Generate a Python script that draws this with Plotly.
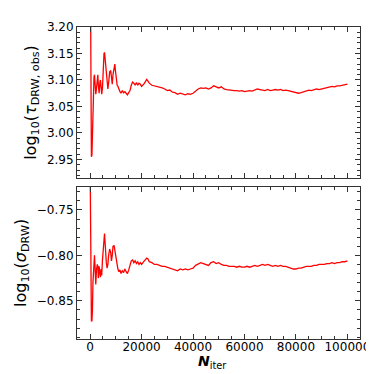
import plotly.graph_objects as go

# iteration number (chain step)
n_iter = [
    0, 100, 200, 350, 500, 700, 900, 1100, 1300, 1500,
    1700, 1900, 2200, 2500, 2800, 3000, 3200, 3500, 3800, 4000,
    4300, 4500, 4800, 5100, 5400, 5600, 5800, 6000, 6300, 6600,
    6900, 7200, 7600, 8000, 8300, 8600, 8900, 9300, 9600, 9900,
    10200, 10500, 10800, 11200, 11600, 12000, 12500, 13000, 13500, 14000,
    14500, 15000, 15500, 16000, 16500, 17000, 17500, 18000, 18500, 19000,
    19500, 20000, 20500, 21000, 21500, 22000, 22500, 23000, 24000, 25000,
    26000, 27000, 28000, 29000, 30000, 31000, 32000, 33000, 34000, 35000,
    36000, 37000, 38000, 39000, 40000, 41000, 42000, 43000, 44000, 45000,
    46000, 47000, 48000, 49000, 50000, 51000, 52000, 53000, 54000, 55000,
    56000, 57000, 58000, 59000, 60000, 61000, 62000, 63000, 64000, 65000,
    66000, 67000, 68000, 69000, 70000, 71000, 72000, 73000, 74000, 75000,
    76000, 77000, 78000, 79000, 80000, 81000, 82000, 83000, 84000, 85000,
    86000, 87000, 88000, 89000, 90000, 91000, 92000, 93000, 94000, 95000,
    96000, 97000, 98000, 99000, 100000,
]

# running log10(tau_DRW,obs)
log_tau = [
    3.400, 3.250, 3.100, 3.020, 2.955, 2.958, 3.000, 3.060, 3.090, 3.105,
    3.110, 3.095, 3.073, 3.085, 3.108, 3.110, 3.090, 3.075, 3.095, 3.100,
    3.085, 3.073, 3.085, 3.130, 3.150, 3.152, 3.140, 3.125, 3.110, 3.090,
    3.083, 3.095, 3.115, 3.118, 3.100, 3.092, 3.110, 3.122, 3.130, 3.115,
    3.100, 3.090, 3.088, 3.080, 3.078, 3.075, 3.080, 3.076, 3.078, 3.075,
    3.072, 3.076, 3.080, 3.090, 3.096, 3.094, 3.090, 3.095, 3.090, 3.094,
    3.092, 3.088, 3.090, 3.093, 3.097, 3.101, 3.098, 3.094, 3.090, 3.089,
    3.088, 3.087, 3.085, 3.083, 3.080, 3.081, 3.077, 3.076, 3.073, 3.075,
    3.074, 3.072, 3.074, 3.073, 3.075, 3.079, 3.083, 3.085, 3.084, 3.085,
    3.083, 3.085, 3.089, 3.087, 3.085, 3.087, 3.083, 3.082, 3.081, 3.081,
    3.080, 3.080, 3.079, 3.080, 3.078, 3.079, 3.080, 3.079, 3.081, 3.083,
    3.082, 3.081, 3.080, 3.082, 3.080, 3.081, 3.082, 3.081, 3.082, 3.080,
    3.081, 3.080, 3.079, 3.078, 3.076, 3.075, 3.076, 3.078, 3.080, 3.081,
    3.080, 3.082, 3.083, 3.082, 3.083, 3.084, 3.085, 3.087, 3.088, 3.087,
    3.089, 3.089, 3.090, 3.091, 3.092,
]

# running log10(sigma_DRW)
log_sigma = [
    -0.700, -0.740, -0.800, -0.840, -0.872, -0.872, -0.860, -0.830, -0.815, -0.800,
    -0.800, -0.812, -0.832, -0.815, -0.810, -0.812, -0.825, -0.812, -0.820, -0.824,
    -0.815, -0.822, -0.805, -0.790, -0.780, -0.776, -0.785, -0.797, -0.808, -0.814,
    -0.810, -0.800, -0.793, -0.797, -0.806, -0.800, -0.790, -0.789, -0.795, -0.800,
    -0.808, -0.812, -0.815, -0.818, -0.816, -0.820, -0.817, -0.819, -0.815, -0.818,
    -0.820, -0.816, -0.812, -0.806, -0.805, -0.808, -0.806, -0.809, -0.807, -0.810,
    -0.808, -0.810, -0.808, -0.806, -0.805, -0.803, -0.804, -0.807, -0.808, -0.810,
    -0.810, -0.811, -0.812, -0.812, -0.813, -0.814, -0.815, -0.816, -0.817, -0.815,
    -0.816, -0.815, -0.816, -0.815, -0.814, -0.811, -0.809, -0.808, -0.809, -0.810,
    -0.811, -0.808, -0.807, -0.809, -0.808, -0.810, -0.811, -0.811, -0.812, -0.812,
    -0.812, -0.813, -0.812, -0.813, -0.813, -0.812, -0.813, -0.812, -0.811, -0.812,
    -0.811, -0.810, -0.811, -0.810, -0.811, -0.812, -0.811, -0.812, -0.811, -0.812,
    -0.812, -0.813, -0.814, -0.815, -0.815, -0.814, -0.814, -0.813, -0.812, -0.812,
    -0.812, -0.811, -0.811, -0.810, -0.810, -0.810, -0.809, -0.809, -0.808, -0.809,
    -0.808, -0.808, -0.807, -0.807, -0.806,
]

font = "DejaVu Sans"
axcol = "#333333"

fig = go.Figure()
fig.add_trace(go.Scatter(x=n_iter, y=log_tau, mode="lines",
                         line=dict(color="red", width=1.3), xaxis="x", yaxis="y"))
fig.add_trace(go.Scatter(x=n_iter, y=log_sigma, mode="lines",
                         line=dict(color="red", width=1.3), xaxis="x2", yaxis="y2"))

common = dict(showline=True, linecolor=axcol, linewidth=1, mirror="allticks",
              ticks="inside", ticklen=5, tickcolor=axcol, showgrid=False, zeroline=False,
              tickfont=dict(family=font, size=12, color="black"))

xcommon = dict(common, range=[-5100, 104900], tick0=0, dtick=20000, tickformat="d",
               minor=dict(ticks="inside", dtick=5000, ticklen=3, tickcolor=axcol))

fig.update_layout(
    width=374, height=374,
    margin=dict(l=69, r=19, t=13, b=43),
    plot_bgcolor="white", paper_bgcolor="white",
    showlegend=False,
    xaxis=dict(xcommon, domain=[0, 1], anchor="y", showticklabels=False),
    yaxis=dict(common, domain=[0.516, 1], anchor="x", range=[2.915, 3.20],
               tick0=0, dtick=0.05, tickformat=".2f",
               minor=dict(ticks="inside", dtick=0.01, ticklen=3, tickcolor=axcol),
               title=dict(text="log<sub>10</sub>(<i>τ</i><sub>DRW, obs</sub>)",
                          font=dict(family=font, size=16, color="black"), standoff=6)),
    xaxis2=dict(xcommon, domain=[0, 1], anchor="y2", matches="x", ticklabelstandoff=-3),
    yaxis2=dict(common, domain=[0, 0.488], anchor="x2", range=[-0.892, -0.7245],
                tick0=0, dtick=0.05, tickformat=".2f",
                minor=dict(ticks="inside", dtick=0.01, ticklen=3, tickcolor=axcol),
                title=dict(text="log<sub>10</sub>(<i>σ</i><sub>DRW</sub>)",
                           font=dict(family=font, size=16, color="black"), standoff=6)),
)

# x-axis title as an annotation so it sits inside the figure
fig.add_annotation(text="<b><i>N</i></b><sub>iter</sub>", xref="paper", yref="paper",
                   x=0.48, y=-0.075, xanchor="center", yanchor="middle", showarrow=False,
                   font=dict(family=font, size=14, color="black"))

fig.write_html("out.html")
